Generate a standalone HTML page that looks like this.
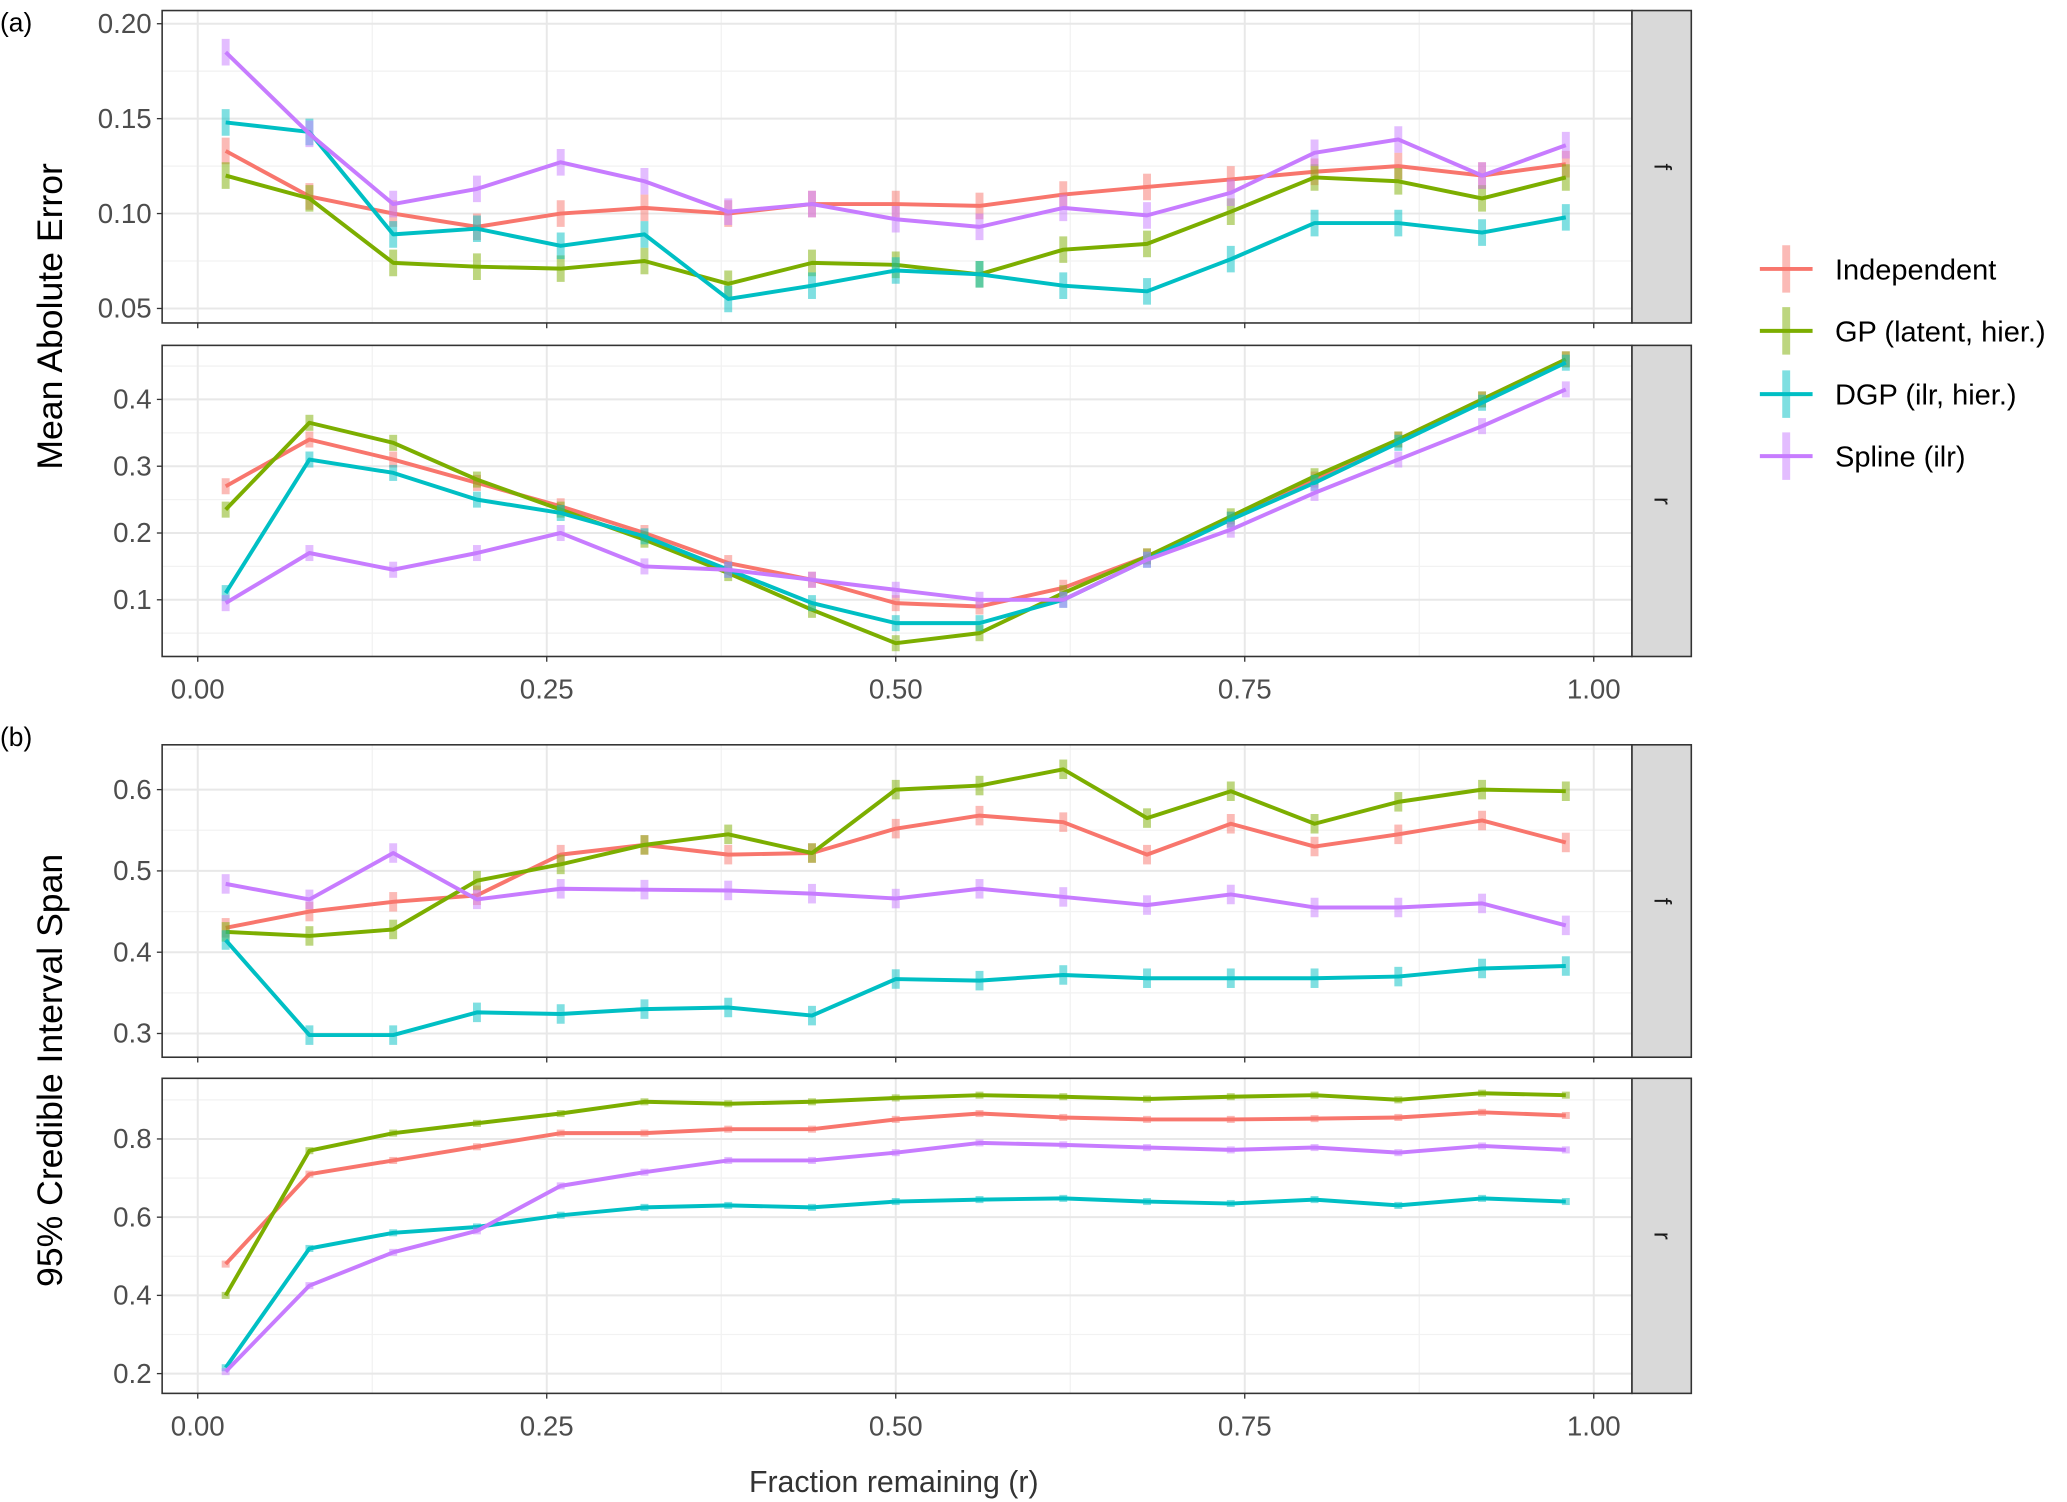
<!DOCTYPE html>
<html><head><meta charset="utf-8"><style>
html,body{margin:0;padding:0;background:#fff;}
svg{display:block;font-family:"Liberation Sans",sans-serif;}
</style></head><body>
<svg id="chart" width="2067" height="1502" viewBox="0 0 1568 1139.4" xmlns="http://www.w3.org/2000/svg"></svg>
<script>
const xValues=[0.02,0.08,0.14,0.20,0.26,0.32,0.38,0.44,0.50,0.56,0.62,0.68,0.74,0.80,0.86,0.92,0.98];
const seriesNames=["Independent","GP (latent, hier.)","DGP (ilr, hier.)","Spline (ilr)"];
const colors=["#F8766D","#7CAE00","#00BFC4","#C77CFF"];
// (a) f
const maeF_ind=[0.133,0.109,0.100,0.093,0.100,0.103,0.100,0.105,0.105,0.104,0.110,0.114,0.118,0.122,0.125,0.120,0.126];
const maeF_gp=[0.120,0.108,0.074,0.072,0.071,0.075,0.063,0.074,0.073,0.068,0.081,0.084,0.101,0.119,0.117,0.108,0.119];
const maeF_dgp=[0.148,0.143,0.089,0.092,0.083,0.089,0.055,0.062,0.070,0.068,0.062,0.059,0.076,0.095,0.095,0.090,0.098];
const maeF_spl=[0.185,0.142,0.105,0.113,0.127,0.117,0.101,0.105,0.097,0.093,0.103,0.099,0.111,0.132,0.139,0.120,0.136];
// (a) r
const maeR_ind=[0.27,0.34,0.31,0.275,0.24,0.20,0.155,0.13,0.095,0.09,0.118,0.165,0.22,0.28,0.34,0.40,0.46];
const maeR_gp=[0.235,0.365,0.335,0.28,0.235,0.19,0.14,0.085,0.035,0.05,0.11,0.165,0.225,0.285,0.34,0.40,0.46];
const maeR_dgp=[0.11,0.31,0.29,0.25,0.23,0.195,0.145,0.095,0.065,0.065,0.10,0.16,0.22,0.275,0.335,0.395,0.455];
const maeR_spl=[0.095,0.17,0.145,0.17,0.20,0.15,0.145,0.13,0.115,0.10,0.10,0.16,0.205,0.26,0.31,0.36,0.415];
// (b) f
const ciF_ind=[0.43,0.45,0.462,0.47,0.52,0.532,0.52,0.522,0.552,0.568,0.56,0.52,0.558,0.53,0.545,0.562,0.535];
const ciF_gp=[0.425,0.42,0.428,0.488,0.508,0.532,0.545,0.522,0.6,0.605,0.625,0.565,0.598,0.558,0.585,0.6,0.598];
const ciF_dgp=[0.415,0.298,0.298,0.326,0.324,0.33,0.332,0.322,0.367,0.365,0.372,0.368,0.368,0.368,0.37,0.38,0.383];
const ciF_spl=[0.484,0.465,0.522,0.465,0.478,0.477,0.476,0.472,0.466,0.478,0.468,0.458,0.471,0.455,0.455,0.46,0.433];
// (b) r
const ciR_ind=[0.48,0.71,0.745,0.78,0.815,0.815,0.825,0.825,0.85,0.865,0.855,0.85,0.85,0.852,0.855,0.868,0.86];
const ciR_gp=[0.40,0.77,0.815,0.84,0.865,0.895,0.89,0.895,0.905,0.912,0.908,0.902,0.908,0.912,0.9,0.917,0.912];
const ciR_dgp=[0.215,0.52,0.56,0.575,0.605,0.625,0.63,0.625,0.64,0.645,0.648,0.64,0.635,0.645,0.63,0.648,0.64];
const ciR_spl=[0.205,0.425,0.51,0.565,0.68,0.715,0.745,0.745,0.765,0.79,0.785,0.778,0.772,0.778,0.765,0.782,0.772];
const xTicks=[0,0.25,0.5,0.75,1.0];
const xTickLabels=["0.00","0.25","0.50","0.75","1.00"];
const ticksAF=[0.05,0.10,0.15,0.20], labelsAF=["0.05","0.10","0.15","0.20"];
const ticksAR=[0.1,0.2,0.3,0.4], labelsAR=["0.1","0.2","0.3","0.4"];
const ticksBF=[0.3,0.4,0.5,0.6], labelsBF=["0.3","0.4","0.5","0.6"];
const ticksBR=[0.2,0.4,0.6,0.8], labelsBR=["0.2","0.4","0.6","0.8"];
const errAF=0.007, errAR=0.012, errBF=0.012, errBR=0.009;

const NS="http://www.w3.org/2000/svg";
const svg=document.getElementById('chart');
function mk(tag,attrs,parent){const e=document.createElementNS(NS,tag);for(const k in attrs)e.setAttribute(k,attrs[k]);(parent||svg).appendChild(e);return e;}
const X0=123,X1=1238;
function xs(v){return 150+1059*v;}

function panel(name,top,bot,yTopVal,yTopPx,yBotVal,yBotPx,ticks,labels,series,err,strip,showX){
  const g=mk('g',{});
  
  
  const ys=v=>yBotPx+(v-yBotVal)*(yTopPx-yBotPx)/(yTopVal-yBotVal);
  mk('rect',{x:X0,y:top,width:X1-X0,height:bot-top,fill:'#fff'},g);
  for(let i=0;i<xTicks.length-1;i++){const v=(xTicks[i]+xTicks[i+1])/2;mk('line',{x1:xs(v),x2:xs(v),y1:top,y2:bot,stroke:'#f2f2f2','stroke-width':1},g);}
  const step=ticks[1]-ticks[0];
  for(let v=ticks[0]-step;v<=ticks[ticks.length-1]+step;v+=step){const m=v+step/2;const p=ys(m);if(p>top&&p<bot)mk('line',{x1:X0,x2:X1,y1:p,y2:p,stroke:'#f2f2f2','stroke-width':1},g);}
  xTicks.forEach(v=>mk('line',{x1:xs(v),x2:xs(v),y1:top,y2:bot,stroke:'#e8e8e8','stroke-width':1.5},g));
  ticks.forEach((v,i)=>{const p=ys(v);mk('line',{x1:X0,x2:X1,y1:p,y2:p,stroke:'#e8e8e8','stroke-width':1.5},g);
    mk('line',{x1:X0-4,x2:X0,y1:p,y2:p,stroke:'#333','stroke-width':1},g);
    const t=mk('text',{x:X0-8,y:p+7,'text-anchor':'end','font-size':21,fill:'#4d4d4d'},g);t.textContent=labels[i];
    });
  series.forEach((arr,si)=>{
    const sg=mk('g',{},g);
    
    
    arr.forEach((v,i)=>{const l=mk('line',{x1:xs(xValues[i]),x2:xs(xValues[i]),y1:ys(v-err),y2:ys(v+err),stroke:colors[si],'stroke-width':6,'stroke-opacity':0.5},sg);
      });
    const pts=arr.map((v,i)=>xs(xValues[i]).toFixed(1)+','+ys(v).toFixed(1)).join(' ');
    const pl=mk('polyline',{points:pts,fill:'none',stroke:colors[si],'stroke-width':3,'stroke-linejoin':'round'},sg);
    
  });
  mk('rect',{x:X0,y:top,width:X1-X0,height:bot-top,fill:'none',stroke:'#333','stroke-width':1.2},g);
  const sr=mk('rect',{x:X1,y:top,width:45,height:bot-top,fill:'#d9d9d9',stroke:'#333','stroke-width':1.2},g);
  
  const st=mk('text',{x:X1+22,y:(top+bot)/2,'text-anchor':'middle','font-size':18,fill:'#1a1a1a',transform:`rotate(90 ${X1+22} ${(top+bot)/2})`,'dominant-baseline':'middle'},g);
  st.textContent=strip;
  xTicks.forEach((v,i)=>{mk('line',{x1:xs(v),x2:xs(v),y1:bot,y2:bot+4,stroke:'#333','stroke-width':1},g);
    if(showX){const t=mk('text',{x:xs(v),y:bot+32,'text-anchor':'middle','font-size':21,fill:'#4d4d4d'},g);t.textContent=xTickLabels[i];
    }});
}
panel('panel-a-f',8,245,0.20,18,0.05,234,ticksAF,labelsAF,[maeF_ind,maeF_gp,maeF_dgp,maeF_spl],errAF,'f',false);
panel('panel-a-r',262,498,0.4,303,0.1,455,ticksAR,labelsAR,[maeR_ind,maeR_gp,maeR_dgp,maeR_spl],errAR,'r',true);
panel('panel-b-f',565,802,0.6,599,0.3,784,ticksBF,labelsBF,[ciF_ind,ciF_gp,ciF_dgp,ciF_spl],errBF,'f',false);
panel('panel-b-r',818,1057,0.8,864,0.2,1042,ticksBR,labelsBR,[ciR_ind,ciR_gp,ciR_dgp,ciR_spl],errBR,'r',true);

function txt(s,attrs,name){const t=mk('text',attrs);t.textContent=s;return t;}
txt('(a)',{x:0,y:24,'font-size':20,fill:'#000'},'label-a');
txt('(b)',{x:0,y:566,'font-size':20,fill:'#000'},'label-b');
txt('Mean Abolute Error',{x:47,y:240,'font-size':27,fill:'#000','text-anchor':'middle',transform:'rotate(-90 47 240)'},'y-axis-title-a');
txt('95% Credible Interval Span',{x:47,y:812,'font-size':27,fill:'#000','text-anchor':'middle',transform:'rotate(-90 47 812)'},'y-axis-title-b');
txt('Fraction remaining (r)',{x:678,y:1132,'font-size':23,fill:'#333','text-anchor':'middle'},'x-axis-title');
const lg=mk('g',{});


const legendY=[204,251,299,346];
seriesNames.forEach((n,i)=>{
  const eg=mk('g',{},lg);
  
  
  mk('line',{x1:1355,x2:1355,y1:legendY[i]-18,y2:legendY[i]+18,stroke:colors[i],'stroke-width':6,'stroke-opacity':0.5},eg);
  mk('line',{x1:1335,x2:1375,y1:legendY[i],y2:legendY[i],stroke:colors[i],'stroke-width':3},eg);
  const t=mk('text',{x:1392,y:legendY[i]+8,'font-size':22,fill:'#000'},eg);t.textContent=n;
});
</script>
</body></html>
